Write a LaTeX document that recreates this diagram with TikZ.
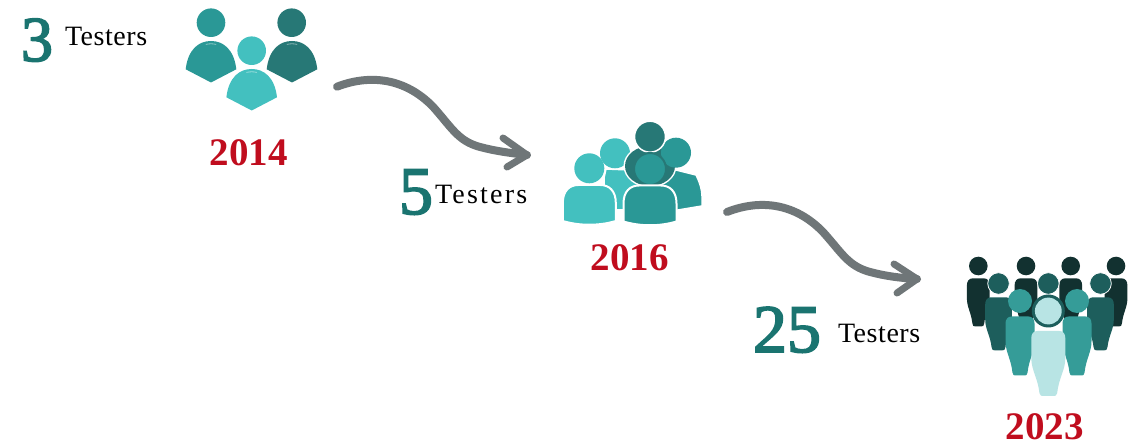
\documentclass[tikz,border=0pt]{standalone}
\usepackage{fontspec}
\setmainfont{Liberation Serif}
\newfontfamily\spaced[LetterSpace=8]{Liberation Serif}
\newfontfamily\plainsp[LetterSpace=2]{Liberation Serif}
\newfontfamily\heavy[FakeBold=2.5]{Liberation Serif}
\usetikzlibrary{calc}
\definecolor{numteal}{HTML}{1A7470}
\definecolor{yearred}{HTML}{C00D1E}
\definecolor{arrowgray}{HTML}{6F7678}
\definecolor{tealA}{HTML}{2A9896}
\definecolor{tealB}{HTML}{277876}
\definecolor{tealC}{HTML}{43C0BF}
\definecolor{darkA}{HTML}{123130}
\definecolor{darkB}{HTML}{1D5E5C}
\definecolor{midC}{HTML}{359C98}
\definecolor{paleD}{HTML}{B8E4E4}
\tikzset{
  lbl/.style={inner sep=0pt,outer sep=0pt,anchor=base west,text=black,font=\fontsize{28}{28}\selectfont},
  num/.style={inner sep=0pt,outer sep=0pt,anchor=base west,text=numteal,font=\heavy\fontsize{68}{68}\selectfont},
  yr/.style={inner sep=0pt,outer sep=0pt,anchor=base,text=yearred,font=\bfseries\fontsize{39}{39}\selectfont},
  swoop/.style={draw=arrowgray,line width=8pt,line cap=round,line join=round},
  swoophead/.style={draw=arrowgray,line width=7pt,line cap=round,line join=round}
}
% shield-shaped body: #1 centre x, #2 top y, #3 colour
\newcommand{\shieldbody}[3]{%
  \fill[#3] (#1-25.3,#2+28.3) .. controls (#1-23,#2+8) and (#1-12,#2) .. (#1,#2)
    .. controls (#1+12,#2) and (#1+23,#2+8) .. (#1+25.3,#2+28.3)
    -- (#1,#2+41.5) -- cycle;
  \draw[white,opacity=.45,line width=.8pt,line cap=round] (#1-5,#2+3.4) .. controls (#1-2,#2+2.6) and (#1+2,#2+2.6) .. (#1+5,#2+3.4);
}
% rounded bust: #1 centre x, #2 top y, #3 colour
\newcommand{\bustbody}[3]{%
  \filldraw[fill=#3,draw=white,line width=2pt] (#1-26.5,#2+36) -- (#1-26.5,#2+18)
    .. controls (#1-26.5,#2+6) and (#1-20,#2) .. (#1-11,#2) -- (#1+11,#2)
    .. controls (#1+20,#2) and (#1+26.5,#2+6) .. (#1+26.5,#2+18) -- (#1+26.5,#2+36)
    .. controls (#1+10,#2+41) and (#1-10,#2+41) .. (#1-26.5,#2+36) -- cycle;
}
% standing figure: #1 centre x, #2 top y, #3 half width, #4 height, #5 colour
\newcommand{\standing}[5]{%
  \fill[#5] (#1-#3+6,#2) -- (#1+#3-6,#2)
    .. controls (#1+#3-2,#2) and (#1+#3,#2+3) .. (#1+#3,#2+7)
    -- (#1+#3,#2+.42*#4)
    .. controls (#1+#3,#2+.6*#4) and (#1+.62*#3,#2+.72*#4) .. (#1+.52*#3,#2+#4-3)
    .. controls (#1+.5*#3,#2+#4) and (#1+.4*#3,#2+#4) .. (#1+.3*#3,#2+#4)
    -- (#1-.3*#3,#2+#4)
    .. controls (#1-.4*#3,#2+#4) and (#1-.5*#3,#2+#4) .. (#1-.52*#3,#2+#4-3)
    .. controls (#1-.62*#3,#2+.72*#4) and (#1-#3,#2+.6*#4) .. (#1-#3,#2+.42*#4)
    -- (#1-#3,#2+7)
    .. controls (#1-#3,#2+3) and (#1-#3+2,#2) .. (#1-#3+6,#2) -- cycle;
}
\begin{document}
\begin{tikzpicture}[x=1pt,y=-1pt]
\useasboundingbox (0,0) rectangle (1135,443);
\fill[white] (0,0) rectangle (1135,443);

% texts
\node[num,font=\heavy\fontsize{64}{64}\selectfont] (n3) at (21,61) {3};
\node[lbl] (t3) at (65,46) {\plainsp Testers};
\node[yr] (y14) at (248.5,166) {2014};
\node[num] (n5) at (399,214) {5};
\node[lbl] (t5) at (435,204) {\spaced Testers};
\node[yr] (y16) at (629.5,271) {2016};
\node[num] (n25) at (753,352) {25};
\node[lbl] (t25) at (838,343) {\plainsp Testers};
\node[yr] (y23) at (1044.5,439.5) {2023};

% group 2014
\fill[tealA] (211,22.7) circle (14.3);
\shieldbody{211}{41}{tealA}
\fill[tealB] (291.7,22.7) circle (14.3);
\shieldbody{292}{41}{tealB}
\fill[tealC] (251.7,50.7) circle (14.3);
\shieldbody{251.7}{69}{tealC}

% group 2016
% back right
\filldraw[fill=tealA,draw=white,line width=1.5pt] (668,168) -- (696,175) .. controls (700,183) and (702,190) .. (702,196)
  -- (702,206) -- (678,210) -- (660,212) -- (650,185) -- cycle;
% back left
\filldraw[fill=tealC,draw=white,line width=1.5pt] (606,169) -- (630,170) -- (650,188) -- (640,210) -- (604,210) -- (604,178) -- cycle;
\fill[tealC] (615,153.3) circle (15);
% back top body, head
\fill[white] (650,166) ellipse (26.5 and 21.5);
\fill[tealB] (650,166) ellipse (25 and 20);
\fill[tealA] (676,152.7) circle (15);
\filldraw[fill=tealB,draw=white,line width=1.5pt] (650,136.7) circle (15.5);
% front left
\fill[tealC] (589.3,168.3) circle (15);
\bustbody{589.3}{185}{tealC}
% front right
\filldraw[fill=tealA,draw=tealB,line width=2pt] (650,169) circle (16);
\bustbody{650}{185.5}{tealA}

% group 2023
\foreach \hx in {978.3,1026,1070.7,1116}{
  \standing{\hx}{278.3}{11.4}{48}{darkA}
  \fill[darkA] (\hx,266) circle (9.3);
}
\foreach \hx in {998.5,1100.5}{
  \standing{\hx}{297.3}{13.3}{53}{darkB}
  \filldraw[fill=darkB,draw=white,line width=.8pt] (\hx,283.5) circle (10.8);
}
\filldraw[fill=darkB,draw=white,line width=.8pt] (1048.3,283.5) circle (10.8);
\foreach \hx in {1020,1077}{
  \standing{\hx}{316.5}{14.5}{59}{midC}
  \fill[midC] (\hx,301) circle (12);
}
\fill[darkB] (1048.3,311) circle (16.5);
\fill[paleD] (1048.3,311) circle (13.4);
\standing{1048.3}{331}{17}{65}{paleD}

% arrows
\coordinate (a1s) at (337,86.7);
\coordinate (a1e) at (527,155);
\coordinate (a1u) at (503,138);
\coordinate (a1d) at (507,167);
\draw[swoop] (a1s) .. controls (370,74) and (405,78) .. (433,106.7)
  .. controls (452,128) and (458,141) .. (480,147) .. controls (495,151) and (510,153) .. (a1e);
\draw[swoophead] (a1u) -- (a1e) -- (a1d);
\coordinate (a2s) at (727,212);
\coordinate (a2e) at (917,279);
\coordinate (a2u) at (894,264);
\coordinate (a2d) at (897,293);
\draw[swoop] (a2s) .. controls (760,199) and (795,203) .. (823,232)
  .. controls (842,253) and (848,266) .. (870,272) .. controls (885,276) and (900,278) .. (a2e);
\draw[swoophead] (a2u) -- (a2e) -- (a2d);
\end{tikzpicture}
\end{document}
